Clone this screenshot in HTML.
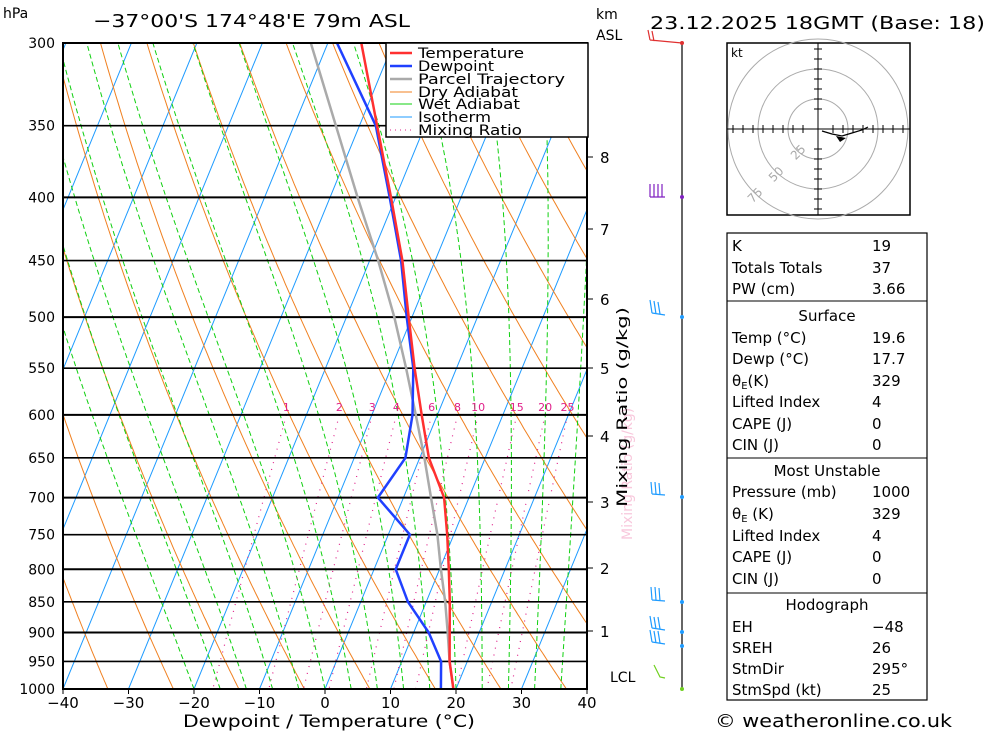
<!DOCTYPE html>
<html><head><meta charset="utf-8">
<style>
body{margin:0;background:#fff;font-family:"Liberation Sans","DejaVu Sans",sans-serif;}
svg{display:block}
text{font-family:"DejaVu Sans","Liberation Sans",sans-serif;}
</style></head>
<body>
<svg id="c" width="1000" height="733" viewBox="0 0 1000 733">
<defs><clipPath id="pc"><rect x="63" y="43" width="524" height="646"/></clipPath></defs>
<g id="bg" clip-path="url(#pc)"></g>
<g id="plines"></g>
<g id="prof" clip-path="url(#pc)"></g>
<g id="axes"></g>
</svg>
<script>
const pressures=[300,350,400,450,500,550,600,650,700,750,800,850,900,950,1000];
const tempC=[-34.9,-27.3,-20.7,-15.0,-10.5,-6.4,-2.4,1.4,6.2,9.0,11.4,13.6,15.5,17.3,19.6];
const dewC=[-38.6,-27.5,-20.9,-15.2,-10.8,-6.6,-3.8,-2.2,-3.9,3.3,3.3,7.2,12.3,16.0,17.7];
const parcelC=[-42.6,-33.6,-25.8,-18.7,-12.7,-7.7,-3.3,0.7,4.2,7.5,10.2,12.9,15.2,17.3,19.6];
const xTicks=[-40,-30,-20,-10,0,10,20,30,40];
const mixRatios=[1,2,3,4,6,8,10,15,20,25];
const kmLabels=[["8",157],["7",229],["6",299],["5",368],["4",436],["3",502],["2",568],["1",631]];

const NS="http://www.w3.org/2000/svg";
const X0=63,X1=587,Y0=43,Y1=689,SK=0.41;
function yP(p){return Y0+Math.log(p/300)/Math.log(1000/300)*(Y1-Y0);}
function xT(t,p){return X0+(t+40)*(X1-X0)/80+SK*(Y1-yP(p));}
function el(tag,attrs,parent){const e=document.createElementNS(NS,tag);for(const k in attrs)e.setAttribute(k,attrs[k]);parent.appendChild(e);return e;}
function pathFrom(fn,p1,p2){let d="";for(let p=p1;p<=p2;p+=5){d+=(d?"L":"M")+xT(fn(p),p).toFixed(1)+","+yP(p).toFixed(1);}return d;}
const bg=document.getElementById('bg'),prof=document.getElementById('prof'),axes=document.getElementById('axes'),pl=document.getElementById('plines');

for(let t=-120;t<=40;t+=10){const l=el('line',{x1:xT(t,1000),y1:Y1,x2:xT(t,300),y2:Y0,stroke:'#1e9bff','stroke-width':1},bg);
}
for(let th=230;th<=480;th+=10){const d=pathFrom(p=>th*Math.pow(p/1000,0.286)-273.15,300,1000);
const e=el('path',{d:d,fill:'none',stroke:'#f08020','stroke-width':1},bg);}
function esat(t){return 6.112*Math.exp(17.67*t/(t+243.5));}
function moistLapse(t,p){const T=t+273.15,es=esat(t),r=0.622*es/(p-es),Lv=2.501e6,Rd=287,cp=1004;
return (Rd*T+Lv*r)/(cp+Lv*Lv*r*0.622/(Rd*T*T))/p;}
for(let t0=-20;t0<=36;t0+=4){let t=t0,d="";for(let p=1000;p>=300;p-=5){d+=(d?"L":"M")+xT(t,p).toFixed(1)+","+yP(p).toFixed(1);t-=moistLapse(t,p)*5;}
const e=el('path',{d:d,fill:'none',stroke:'#10d010','stroke-width':1,'stroke-dasharray':'5,3'},bg);}
function tdw(w,p){const e=w*p/(622+w),a=Math.log(e/6.112);return 243.5*a/(17.67-a);}
mixRatios.forEach(w=>{const e=el('path',{d:pathFrom(p=>tdw(w,p),600,1000),fill:'none',stroke:'#e0208a','stroke-width':1.2,'stroke-dasharray':'1,6'},bg);

const t=el('text',{x:xT(tdw(w,600),600),y:411,'font-size':11,fill:'#e0208a','text-anchor':'middle'},axes);t.textContent=w;
});
pressures.forEach(p=>{const y=yP(p);const l=el('line',{x1:X0,x2:X1,y1:y,y2:y,stroke:'#000','stroke-width':(p%100===0)?2:1.6},pl);

const t=el('text',{x:55,y:y+5,'font-size':14,'text-anchor':'end'},axes);t.textContent=p;});
function prPath(arr){return arr.map((t,i)=>(i?"L":"M")+xT(t,pressures[i]).toFixed(1)+","+yP(pressures[i]).toFixed(1)).join("");}
let e=el('path',{d:prPath(parcelC),fill:'none',stroke:'#aaa','stroke-width':2.5},prof);
e=el('path',{d:prPath(dewC),fill:'none',stroke:'#2040ff','stroke-width':2.5},prof);
e=el('path',{d:prPath(tempC),fill:'none',stroke:'#ff3030','stroke-width':2.5},prof);
e=el('rect',{x:X0,y:Y0,width:X1-X0,height:Y1-Y0,fill:'none',stroke:'#000','stroke-width':2},axes);
xTicks.forEach(t=>{const x=X0+(t+40)*(X1-X0)/80;const l=el('line',{x1:x,x2:x,y1:Y1,y2:Y1+5,stroke:'#000'},axes);

const tx=el('text',{x:x,y:708,'font-size':15,'text-anchor':'middle'},axes);tx.textContent=(t<0?'\u2212'+(-t):t);});
kmLabels.forEach(k=>{const l=el('line',{x1:X1,x2:X1+6,y1:k[1],y2:k[1],stroke:'#000'},axes);
const t=el('text',{x:600,y:k[1]+6,'font-size':15},axes);t.textContent=k[0];});
</script>
<svg width="1000" height="733" style="position:absolute;left:0;top:0">
<text x="3" y="18" font-size="14">hPa</text>
<text x="93" y="27" font-size="18" textLength="317" lengthAdjust="spacingAndGlyphs">−37°00'S  174°48'E  79m  ASL</text>
<text x="650" y="29" font-size="18" textLength="335" lengthAdjust="spacingAndGlyphs">23.12.2025  18GMT  (Base: 18)</text>
<text x="596" y="19" font-size="14">km</text>
<text x="596" y="40" font-size="14">ASL</text>
<text x="610" y="682" font-size="14">LCL</text>
<text x="183" y="727" font-size="17" textLength="292" lengthAdjust="spacingAndGlyphs">Dewpoint / Temperature (°C)</text>
<text x="715" y="727" font-size="18" textLength="237" lengthAdjust="spacingAndGlyphs">© weatheronline.co.uk</text>
<text transform="translate(632,540) rotate(-90)" font-size="14" fill="#f8c8dc">Mixing Ratio (g/kg)</text>
<text transform="translate(627,507) rotate(-90)" font-size="14" textLength="200" lengthAdjust="spacingAndGlyphs">Mixing Ratio (g/kg)</text>
<g>
<rect x="386" y="43" width="202" height="94" fill="#fff" stroke="#000" stroke-width="1.5"/>
<line x1="390" y1="53" x2="412" y2="53" stroke="#ff3030" stroke-width="2.5"/><text x="418" y="58" font-size="14" textLength="106" lengthAdjust="spacingAndGlyphs">Temperature</text>
<line x1="390" y1="66" x2="412" y2="66" stroke="#2040ff" stroke-width="2.5"/><text x="418" y="71" font-size="14" textLength="76" lengthAdjust="spacingAndGlyphs">Dewpoint</text>
<line x1="390" y1="79" x2="412" y2="79" stroke="#aaa" stroke-width="2.5"/><text x="418" y="84" font-size="14" textLength="147" lengthAdjust="spacingAndGlyphs">Parcel Trajectory</text>
<line x1="390" y1="92" x2="412" y2="92" stroke="#f08020"/><text x="418" y="97" font-size="14" textLength="100" lengthAdjust="spacingAndGlyphs">Dry Adiabat</text>
<line x1="390" y1="104" x2="412" y2="104" stroke="#10d010"/><text x="418" y="109" font-size="14" textLength="102" lengthAdjust="spacingAndGlyphs">Wet Adiabat</text>
<line x1="390" y1="117" x2="412" y2="117" stroke="#1e9bff"/><text x="418" y="122" font-size="14" textLength="73" lengthAdjust="spacingAndGlyphs">Isotherm</text>
<line x1="390" y1="130" x2="412" y2="130" stroke="#e0208a" stroke-dasharray="1,4"/><text x="418" y="135" font-size="14" textLength="104" lengthAdjust="spacingAndGlyphs">Mixing Ratio</text>
</g>
<g stroke-width="1.2" fill="none">
<line x1="682" y1="43" x2="682" y2="689" stroke="#000"/>
<path d="M682 43 L650 40 M650 40 L648 30 M654 41 L652 31" stroke="#e03030"/>
<path d="M665 197 L650 197 M650 197 L650 184 M654 197 L654 184 M658 197 L658 184 M662 197 L662 184" stroke="#8020c0"/>
<path d="M665 315 L652 313 M652 313 L650 300 M656 314 L654 301 M660 314 L658 302" stroke="#1e9bff"/>
<path d="M665 495 L652 494 M652 494 L651 482 M656 494 L655 482 M660 495 L659 483" stroke="#1e9bff"/>
<path d="M665 601 L652 600 M652 600 L651 587 M656 600 L655 587 M660 601 L659 588" stroke="#1e9bff"/>
<path d="M665 630 L652 628 M652 628 L650 616 M656 629 L654 617 M660 629 L658 617" stroke="#1e9bff"/>
<path d="M665 644 L652 642 M652 642 L650 630 M656 643 L654 631 M660 643 L658 631" stroke="#1e9bff"/>
<path d="M665 678 L660 677 L654 665" stroke="#70d020"/>
<circle cx="682" cy="43" r="2" fill="#e03030" stroke="none"/>
<circle cx="682" cy="197" r="2" fill="#8020c0" stroke="none"/>
<circle cx="682" cy="317" r="2" fill="#1e9bff" stroke="none"/>
<circle cx="682" cy="497" r="2" fill="#1e9bff" stroke="none"/>
<circle cx="682" cy="602" r="2" fill="#1e9bff" stroke="none"/>
<circle cx="682" cy="632" r="2" fill="#1e9bff" stroke="none"/>
<circle cx="682" cy="646" r="2" fill="#1e9bff" stroke="none"/>
<circle cx="682" cy="689" r="2" fill="#70d020" stroke="none"/>
</g>
<g>
<rect x="727" y="43" width="183" height="172" fill="#fff" stroke="#000" stroke-width="1.5"/>
<text x="731" y="57" font-size="12">kt</text>
<circle cx="818" cy="129" r="30" fill="none" stroke="#aaa"/>
<circle cx="818" cy="129" r="60" fill="none" stroke="#aaa"/>
<circle cx="818" cy="129" r="90" fill="none" stroke="#aaa"/>
<line x1="727" y1="129" x2="910" y2="129" stroke="#000"/>
<line x1="818" y1="43" x2="818" y2="215" stroke="#000"/>
<path d="M733 125V133M743 125V133M753 125V133M763 125V133M773 125V133M783 125V133M793 125V133M803 125V133M833 125V133M843 125V133M853 125V133M863 125V133M873 125V133M883 125V133M893 125V133M903 125V133M814 49H822M814 59H822M814 69H822M814 79H822M814 89H822M814 99H822M814 109H822M814 149H822M814 159H822M814 169H822M814 179H822M814 189H822M814 199H822M814 209H822" stroke="#000"/>
<text x="790" y="157" font-size="12" fill="#aaa" transform="rotate(-45 797 152)">25</text>
<text x="768" y="179" font-size="12" fill="#aaa" transform="rotate(-45 775 174)">50</text>
<text x="747" y="200" font-size="12" fill="#aaa" transform="rotate(-45 754 195)">75</text>
<path d="M822 131 L832 134 L842 136 L852 133 L862 130 L868 127" stroke="#000" fill="none" stroke-width="1.2"/>
<path d="M836 136 L846 138 L840 142 Z" fill="#000"/>
</g>
<g font-size="15">
<rect x="727" y="233" width="200" height="467" fill="none" stroke="#000" stroke-width="1.2"/>
<line x1="727" y1="301" x2="927" y2="301" stroke="#000"/>
<line x1="727" y1="458" x2="927" y2="458" stroke="#000"/>
<line x1="727" y1="593" x2="927" y2="593" stroke="#000"/>
<text x="732" y="251">K</text><text x="872" y="251">19</text>
<text x="732" y="273">Totals Totals</text><text x="872" y="273">37</text>
<text x="732" y="294">PW (cm)</text><text x="872" y="294">3.66</text>
<text x="827" y="321" text-anchor="middle">Surface</text>
<text x="732" y="343">Temp (°C)</text><text x="872" y="343">19.6</text>
<text x="732" y="364">Dewp (°C)</text><text x="872" y="364">17.7</text>
<text x="732" y="386">θ<tspan font-size="10" dy="3">E</tspan><tspan dy="-3">(K)</tspan></text><text x="872" y="386">329</text>
<text x="732" y="407">Lifted Index</text><text x="872" y="407">4</text>
<text x="732" y="429">CAPE (J)</text><text x="872" y="429">0</text>
<text x="732" y="450">CIN (J)</text><text x="872" y="450">0</text>
<text x="827" y="476" text-anchor="middle">Most Unstable</text>
<text x="732" y="497">Pressure (mb)</text><text x="872" y="497">1000</text>
<text x="732" y="519">θ<tspan font-size="10" dy="3">E</tspan><tspan dy="-3"> (K)</tspan></text><text x="872" y="519">329</text>
<text x="732" y="541">Lifted Index</text><text x="872" y="541">4</text>
<text x="732" y="562">CAPE (J)</text><text x="872" y="562">0</text>
<text x="732" y="584">CIN (J)</text><text x="872" y="584">0</text>
<text x="827" y="610" text-anchor="middle">Hodograph</text>
<text x="732" y="632">EH</text><text x="872" y="632">−48</text>
<text x="732" y="653">SREH</text><text x="872" y="653">26</text>
<text x="732" y="674">StmDir</text><text x="872" y="674">295°</text>
<text x="732" y="695">StmSpd (kt)</text><text x="872" y="695">25</text>
</g>
</svg>
</body></html>
